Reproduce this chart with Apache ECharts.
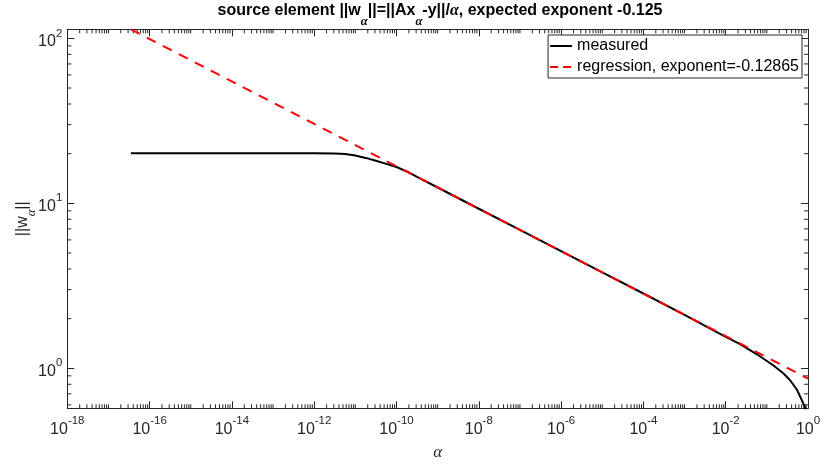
<!DOCTYPE html>
<html>
<head>
<meta charset="utf-8">
<script src="https://cdn.jsdelivr.net/npm/echarts@6/dist/echarts.min.js"></script>
<style>
html,body{margin:0;padding:0;background:#fff;}
#chart{width:822px;height:465px;}
</style>
</head>
<body>
<div id="chart"></div>
<script>
// ---- data ----
const alphaMeasured = [3.5e-17, 1e-16, 1e-15, 1e-14, 1e-13, 1e-12, 3.16e-12, 5.62e-12, 1e-11, 1.78e-11, 3.16e-11, 5.62e-11, 1e-10, 1.78e-10, 3.16e-10, 1e-9, 1e-8, 1e-7, 1e-6, 1e-5, 1e-4, 1e-3, 3.16e-3, 1e-2, 0.0224, 0.0562, 0.145, 0.251, 0.363, 0.531, 0.703, 0.851, 1];
const normMeasured  = [20.1, 20.1, 20.1, 20.1, 20.1, 20.1, 20.05, 19.9, 19.5, 18.85, 18.1, 17.35, 16.6, 15.6, 14.45, 12.47, 9.27, 6.90, 5.13, 3.81, 2.84, 2.11, 1.81, 1.55, 1.40, 1.22, 1.04, 0.933, 0.849, 0.746, 0.643, 0.575, 0.51];
const alphaRegression = [3.5e-17, 1];
const normRegression  = [113.5, 0.867];
const xMin = 1e-18, xMax = 1;
const yMin = 0.572, yMax = 113.5;
const seriesNames = ['measured', 'regression, exponent=-0.12865'];
const titleParts = ['source element ||w', '||=||Ax', '-y||/', ', expected exponent -0.125'];

// minor tick positions (axis decoration)
const xMinor = [];
for (let d = -18; d < 0; d++) {
  if (Math.abs(d) % 2 === 1) xMinor.push(Math.pow(10, d));
  for (let k = 2; k <= 9; k++) xMinor.push(k * Math.pow(10, d));
}
const yMinor = [];
for (let d = -1; d <= 2; d++) {
  for (let k = 2; k <= 9; k++) {
    const v = k * Math.pow(10, d);
    if (v > yMin && v < yMax) yMinor.push(v);
  }
}

const AX = '#262626';
const FONT = '"Liberation Sans", Arial, Helvetica, sans-serif';
const SERIF = '"Liberation Serif", "DejaVu Serif", serif';

function powLabel(v, even) {
  const e = Math.log10(v);
  const r = Math.round(e);
  if (Math.abs(e - r) > 1e-6) return '';
  if (even && r % 2 !== 0) return '';
  return '{b|10}{s|' + r + '}';
}
const labelRich = {
  b: {fontSize: 16, fontFamily: FONT, color: AX, lineHeight: 22, verticalAlign: 'bottom'},
  s: {fontSize: 11.5, fontFamily: FONT, color: AX, lineHeight: 10, verticalAlign: 'top'}
};

const chart = echarts.init(document.getElementById('chart'), null, {renderer: 'canvas'});

function minorTickSeries(values, isX) {
  return {
    type: 'custom',
    silent: true,
    xAxisIndex: 0, yAxisIndex: 0,
    clip: false,
    data: values.map(v => isX ? [v, yMin] : [xMin, v]),
    encode: {x: 0, y: 1},
    renderItem: function (params, api) {
      const cs = params.coordSys;
      const L = 4;
      const st = {stroke: AX, lineWidth: 1};
      if (isX) {
        const px = api.coord([api.value(0), yMin])[0];
        return {type: 'group', children: [
          {type: 'line', shape: {x1: px, y1: cs.y + cs.height, x2: px, y2: cs.y + cs.height - L}, style: st},
          {type: 'line', shape: {x1: px, y1: cs.y, x2: px, y2: cs.y + L}, style: st}
        ]};
      } else {
        const py = api.coord([xMin, api.value(1)])[1];
        return {type: 'group', children: [
          {type: 'line', shape: {x1: cs.x, y1: py, x2: cs.x + L, y2: py}, style: st},
          {type: 'line', shape: {x1: cs.x + cs.width, y1: py, x2: cs.x + cs.width - L, y2: py}, style: st}
        ]};
      }
    }
  };
}

const option = {
  animation: false,
  backgroundColor: '#fff',
  title: {
    left: 440, top: 3, textAlign: 'center', padding: 0,
    text: '{t|' + titleParts[0] + '}{a|α}{t|' + titleParts[1] + '}{a|α}{t|' + titleParts[2] + '}{ai|α}{t|' + titleParts[3] + '}',
    textStyle: {
      rich: {
        t: {fontSize: 16, fontWeight: 'bold', fontFamily: FONT, color: '#000', lineHeight: 17, verticalAlign: 'top'},
        a: {fontSize: 12.5, fontStyle: 'italic', fontFamily: SERIF, color: '#000', lineHeight: 11, padding: [12, 0, 0, 0], verticalAlign: 'top'},
        ai: {fontSize: 16, fontStyle: 'italic', fontFamily: SERIF, color: '#000', lineHeight: 17, verticalAlign: 'top'}
      }
    }
  },
  legend: {
    data: [
      {name: seriesNames[0], lineStyle: {color: '#000', width: 2, type: 'solid'}},
      {name: seriesNames[1], lineStyle: {color: '#ff0000', width: 2, type: [8, 5]}}
    ],
    orient: 'vertical',
    right: 20, top: 35,
    backgroundColor: '#fff',
    borderColor: AX, borderWidth: 1,
    padding: [3, 3, 3, 1],
    itemGap: 5,
    itemWidth: 22, itemHeight: 14,
    itemStyle: {opacity: 0},
    textStyle: {fontSize: 16, fontFamily: FONT, color: '#000'}
  },
  grid: {left: 67.3, right: 14, top: 29.3, bottom: 56.7, containLabel: false, outerBoundsMode: 'none'},
  xAxis: [{
    type: 'log', min: xMin, max: xMax, interval: 2,
    name: 'α', nameLocation: 'middle', nameGap: 36, nameMoveOverlap: false,
    nameTextStyle: {fontSize: 17, fontStyle: 'italic', fontFamily: SERIF, color: AX},
    axisLine: {lineStyle: {color: AX, width: 1}},
    axisTick: {inside: true, length: 7, lineStyle: {color: AX}},
    minorTick: {show: false},
    splitLine: {show: false},
    axisLabel: {margin: 7, formatter: v => powLabel(v, true), rich: labelRich, showMinLabel: true, showMaxLabel: true, hideOverlap: false}
  }, {
    type: 'log', min: xMin, max: xMax, interval: 2, position: 'top',
    axisLine: {lineStyle: {color: AX, width: 1}},
    axisTick: {inside: true, length: 7, lineStyle: {color: AX}},
    splitLine: {show: false},
    axisLabel: {show: false}
  }],
  yAxis: [{
    type: 'log', min: yMin, max: yMax,
    name: '{n|||w}{a|α}{n|||}', nameLocation: 'middle', nameGap: 36, nameMoveOverlap: false,
    nameTextStyle: {
      rich: {
        n: {fontSize: 16, fontFamily: FONT, color: AX, lineHeight: 17, verticalAlign: 'top'},
        a: {fontSize: 12.5, fontStyle: 'italic', fontFamily: SERIF, color: AX, lineHeight: 11, padding: [11, 0, 0, 0], verticalAlign: 'top'}
      }
    },
    axisLine: {lineStyle: {color: AX, width: 1}},
    axisTick: {inside: true, length: 7, lineStyle: {color: AX}},
    splitLine: {show: false},
    axisLabel: {margin: 5, formatter: v => powLabel(v, false), rich: labelRich, showMinLabel: true, showMaxLabel: true}
  }, {
    type: 'log', min: yMin, max: yMax, position: 'right',
    axisLine: {lineStyle: {color: AX, width: 1}},
    axisTick: {inside: true, length: 7, lineStyle: {color: AX}},
    splitLine: {show: false},
    axisLabel: {show: false}
  }],
  series: [
    {
      name: seriesNames[0], type: 'line', xAxisIndex: 0, yAxisIndex: 0,
      data: alphaMeasured.map((a, i) => [a, normMeasured[i]]),
      showSymbol: false, symbol: 'none', clip: true,
      lineStyle: {color: '#000', width: 2}, itemStyle: {color: '#000'}, z: 3
    },
    {
      name: seriesNames[1], type: 'line', xAxisIndex: 0, yAxisIndex: 0,
      data: alphaRegression.map((a, i) => [a, normRegression[i]]),
      showSymbol: false, symbol: 'none', clip: true,
      lineStyle: {color: '#ff0000', width: 2, type: [10, 8]}, itemStyle: {color: '#ff0000'}, z: 4
    },
    minorTickSeries(xMinor, true),
    minorTickSeries(yMinor, false)
  ]
};
chart.setOption(option);
</script>
</body>
</html>
